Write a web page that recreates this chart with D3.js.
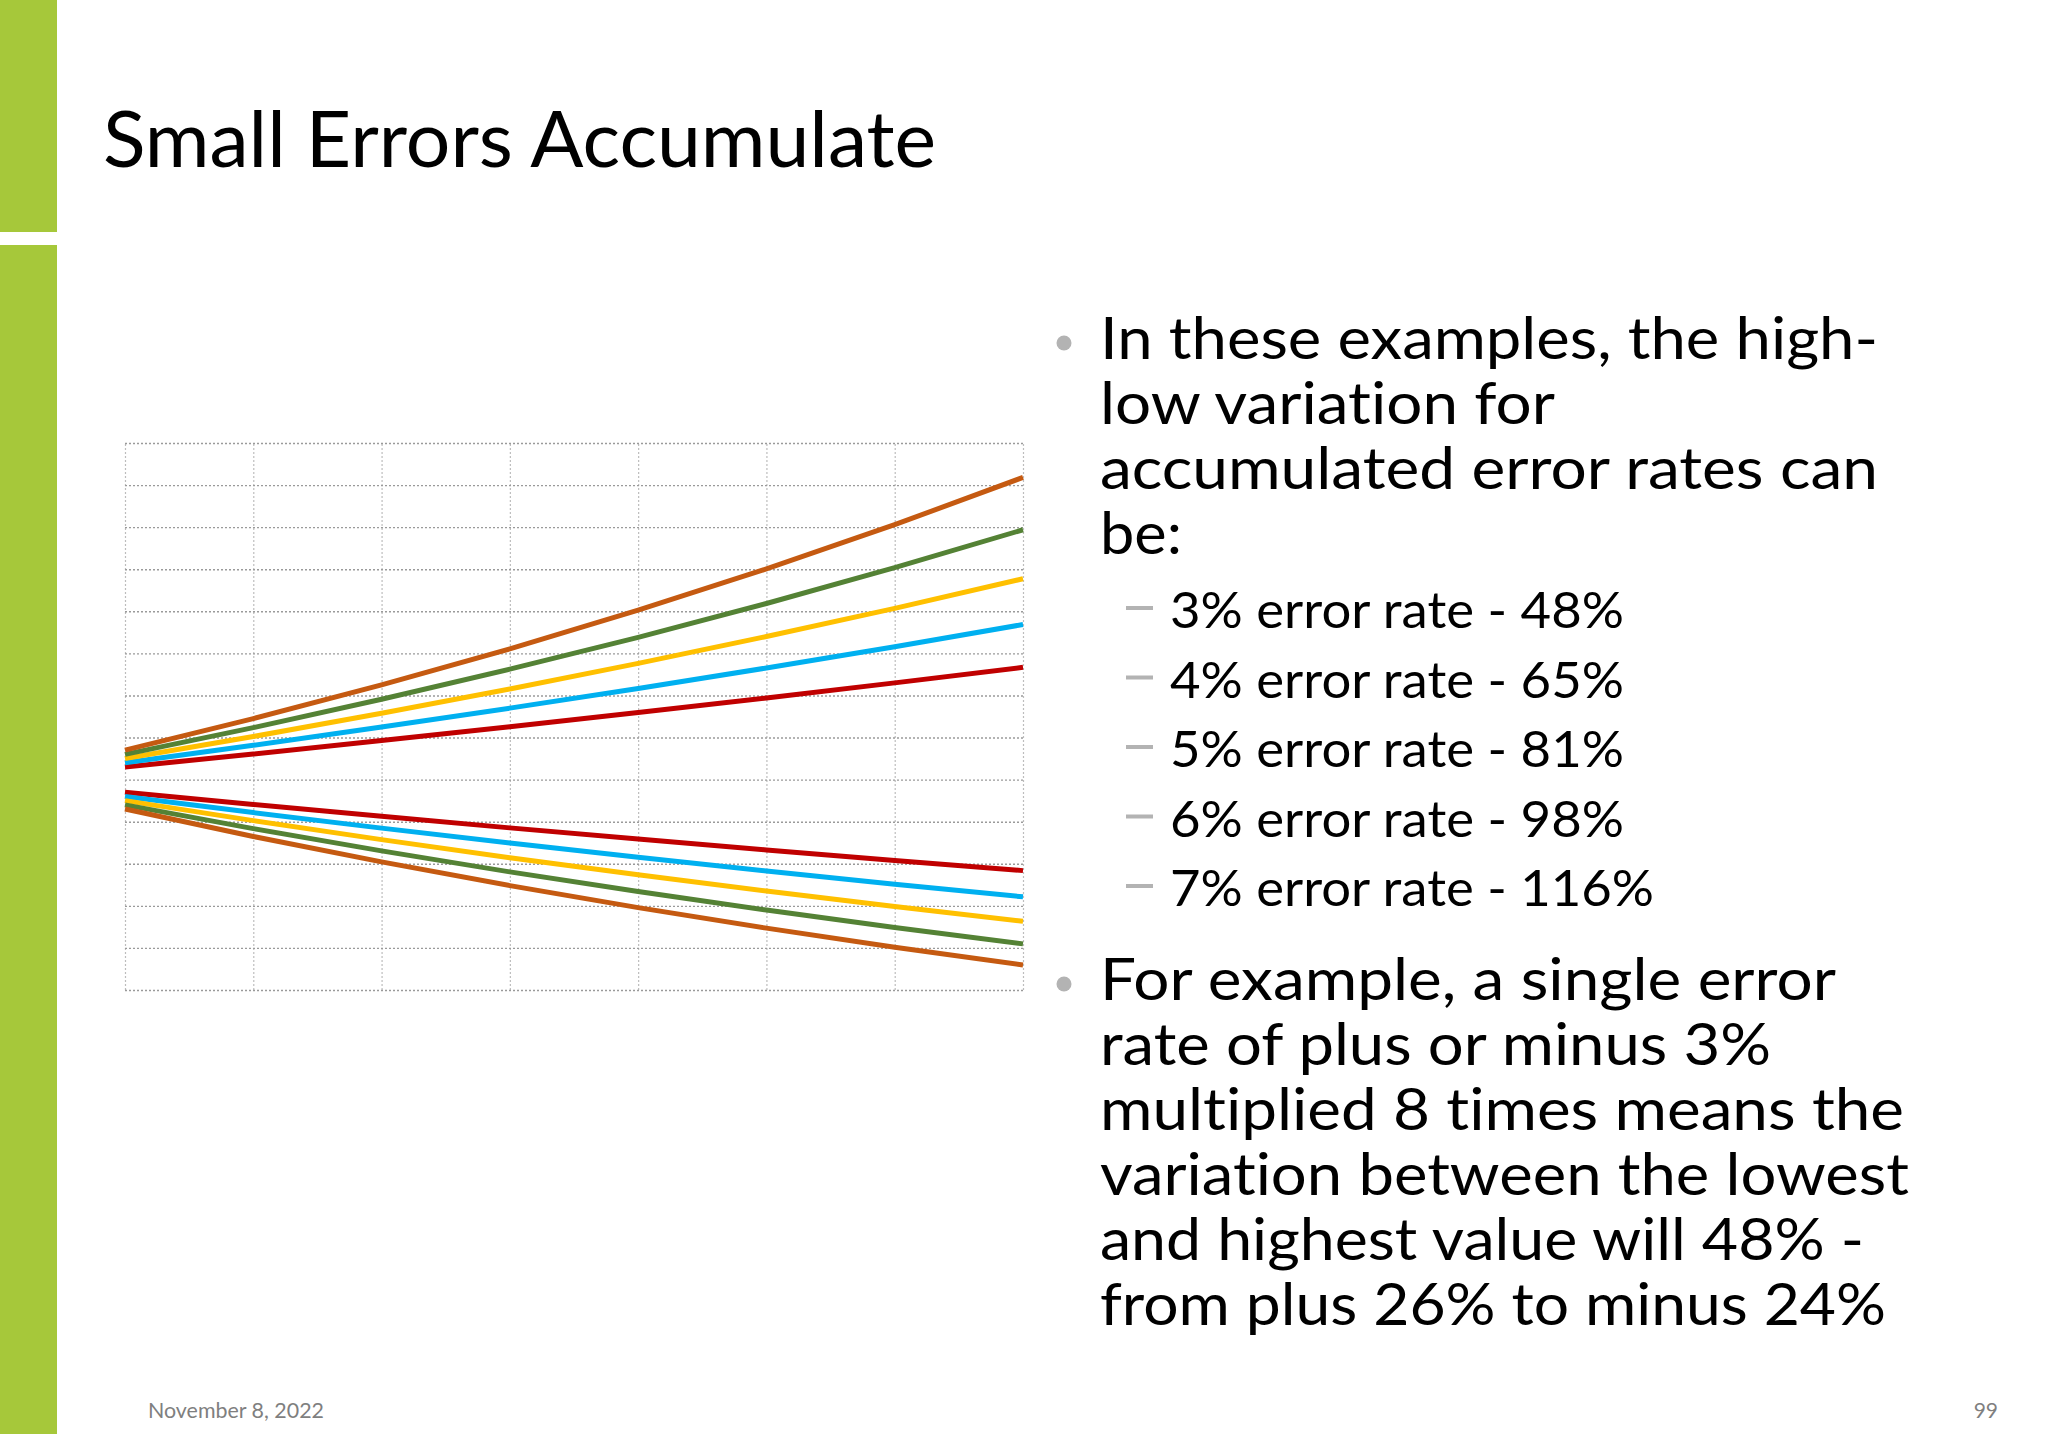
<!DOCTYPE html>
<html>
<head>
<meta charset="utf-8">
<script src="https://cdn.jsdelivr.net/npm/d3@7"></script>
<style>
  body { margin: 0; background: #fff; }
  svg { display: block; }
  text { font-variant-ligatures: none; }
</style>
</head>
<body>
<div id="my_dataviz"></div>
<script>
// steps along the x axis (8 multiplications)
var steps = [1, 2, 3, 4, 5, 6, 7, 8];

// accumulated value, high and low, per error rate
var up3 = [1.03, 1.0609, 1.0927, 1.1255, 1.1593, 1.1941, 1.2299, 1.2668];
var down3 = [0.97, 0.9409, 0.9127, 0.8853, 0.8587, 0.833, 0.808, 0.7837];
var up4 = [1.04, 1.0816, 1.1249, 1.1699, 1.2167, 1.2653, 1.3159, 1.3686];
var down4 = [0.96, 0.9216, 0.8847, 0.8493, 0.8154, 0.7828, 0.7514, 0.7214];
var up5 = [1.05, 1.1025, 1.1576, 1.2155, 1.2763, 1.3401, 1.4071, 1.4775];
var down5 = [0.95, 0.9025, 0.8574, 0.8145, 0.7738, 0.7351, 0.6983, 0.6634];
var up6 = [1.06, 1.1236, 1.191, 1.2625, 1.3382, 1.4185, 1.5036, 1.5938];
var down6 = [0.94, 0.8836, 0.8306, 0.7807, 0.7339, 0.6899, 0.6485, 0.6096];
var up7 = [1.07, 1.1449, 1.225, 1.3108, 1.4026, 1.5007, 1.6058, 1.7182];
var down7 = [0.93, 0.8649, 0.8044, 0.7481, 0.6957, 0.647, 0.6017, 0.5596];

var rateNames = ["3%", "4%", "5%", "6%", "7%"];
var rateColors = ["#C00000", "#00B0F0", "#FFC000", "#548235", "#C55A11"];

// y gridline values
var yTicks = [0.5, 0.6, 0.7, 0.8, 0.9, 1.0, 1.1, 1.2, 1.3, 1.4, 1.5, 1.6, 1.7, 1.8];

// slide texts
var title = "Small Errors Accumulate";
var bullet1 = ["In these examples, the high-", "low variation for", "accumulated error rates can", "be:"];
var subBullets = ["3% error rate - 48%", "4% error rate - 65%", "5% error rate - 81%", "6% error rate - 98%", "7% error rate - 116%"];
var bullet2 = ["For example, a single error", "rate of plus or minus 3%", "multiplied 8 times means the", "variation between the lowest", "and highest value will 48% -", "from plus 26% to minus 24%"];
var footerDate = "November 8, 2022";
var slideNumber = "99";

var W = 2048, H = 1434;
var font = "Lato, 'Open Sans', sans-serif";

var svg = d3
  .select("#my_dataviz")
  .append("svg")
  .attr("width", W)
  .attr("height", H);

// green side bar with the small gap
svg.append("rect").attr("x", 0).attr("y", 0).attr("width", 57).attr("height", 232).style("fill", "#A6C83A");
svg.append("rect").attr("x", 0).attr("y", 245).attr("width", 57).attr("height", H - 245).style("fill", "#A6C83A");

// helper: text squeezed to a measured width
function addText(str, x, y, size, color, target, anchor) {
  var t = svg
    .append("text")
    .attr("x", x)
    .attr("y", y)
    .attr("text-anchor", anchor || "start")
    .style("font-family", font)
    .style("font-size", size + "px")
    .style("fill", color)
    .text(str);
  if (target) {
    t.attr("textLength", target).attr("lengthAdjust", "spacingAndGlyphs");
  }
  return t;
}

addText(title, 103, 167, 78, "#000", 833);

// chart area
var margin = { left: 125, top: 443 },
  width = 1023 - 125,
  height = 990 - 443;

var g = svg.append("g").attr("transform", "translate(" + margin.left + "," + margin.top + ")");

var x = d3.scaleLinear().domain([1, 8]).range([0, width]);
var y = d3.scaleLinear().domain([0.5, 1.8]).range([height, 0]);

// vertical gridlines
g.append("g")
  .attr("class", "xgrid")
  .attr("transform", "translate(0," + height + ")")
  .call(d3.axisBottom(x).tickValues(steps).tickSize(-height).tickFormat(""))
  .call(function (a) {
    a.select(".domain").remove();
    a.selectAll("line").style("stroke", "#bdbdbd").style("stroke-width", 1.2).style("stroke-dasharray", "2,2");
  });

// horizontal gridlines
g.append("g")
  .attr("class", "ygrid")
  .call(d3.axisLeft(y).tickValues(yTicks).tickSize(-width).tickFormat(""))
  .call(function (a) {
    a.select(".domain").remove();
    a.selectAll("line").style("stroke", "#9a9a9a").style("stroke-width", 1.4).style("stroke-dasharray", "2,2");
  });

var series = [
  { name: rateNames[0], up: up3, down: down3, color: rateColors[0] },
  { name: rateNames[1], up: up4, down: down4, color: rateColors[1] },
  { name: rateNames[2], up: up5, down: down5, color: rateColors[2] },
  { name: rateNames[3], up: up6, down: down6, color: rateColors[3] },
  { name: rateNames[4], up: up7, down: down7, color: rateColors[4] }
];

var line = d3
  .line()
  .x(function (d, i) { return x(steps[i]); })
  .y(function (d) { return y(d); });

series.forEach(function (s) {
  [s.up, s.down].forEach(function (vals) {
    g.append("path")
      .datum(vals)
      .attr("d", line)
      .style("fill", "none")
      .style("stroke", s.color)
      .style("stroke-width", 5)
      .style("stroke-linejoin", "round");
  });
});

// bullets on the right
var bulletColor = "#b3b3b3";
svg.append("circle").attr("cx", 1064).attr("cy", 343).attr("r", 7.5).style("fill", bulletColor);
var b1Widths = [778, 455, 778, 82];
var b1Base = [359, 424, 489, 554];
bullet1.forEach(function (s, i) {
  addText(s, 1100, b1Base[i], 58, "#000", b1Widths[i]);
});

var subWidths = [454, 454, 454, 454, 484];
subBullets.forEach(function (s, i) {
  var base = 628 + i * 69.5;
  svg.append("rect").attr("x", 1126).attr("y", base - 22).attr("width", 27).attr("height", 4).style("fill", bulletColor);
  addText(s, 1170, base, 50, "#000", subWidths[i]);
});

svg.append("circle").attr("cx", 1064).attr("cy", 984).attr("r", 7.5).style("fill", bulletColor);
var b2Widths = [736, 671, 804, 809, 764, 786];
bullet2.forEach(function (s, i) {
  addText(s, 1100, 1000 + i * 65, 58, "#000", b2Widths[i]);
});

// footer
addText(footerDate, 148, 1418, 21, "#7f7f7f", 176);
addText(slideNumber, 1998, 1418, 21, "#7f7f7f", null, "end");
</script>
</body>
</html>
